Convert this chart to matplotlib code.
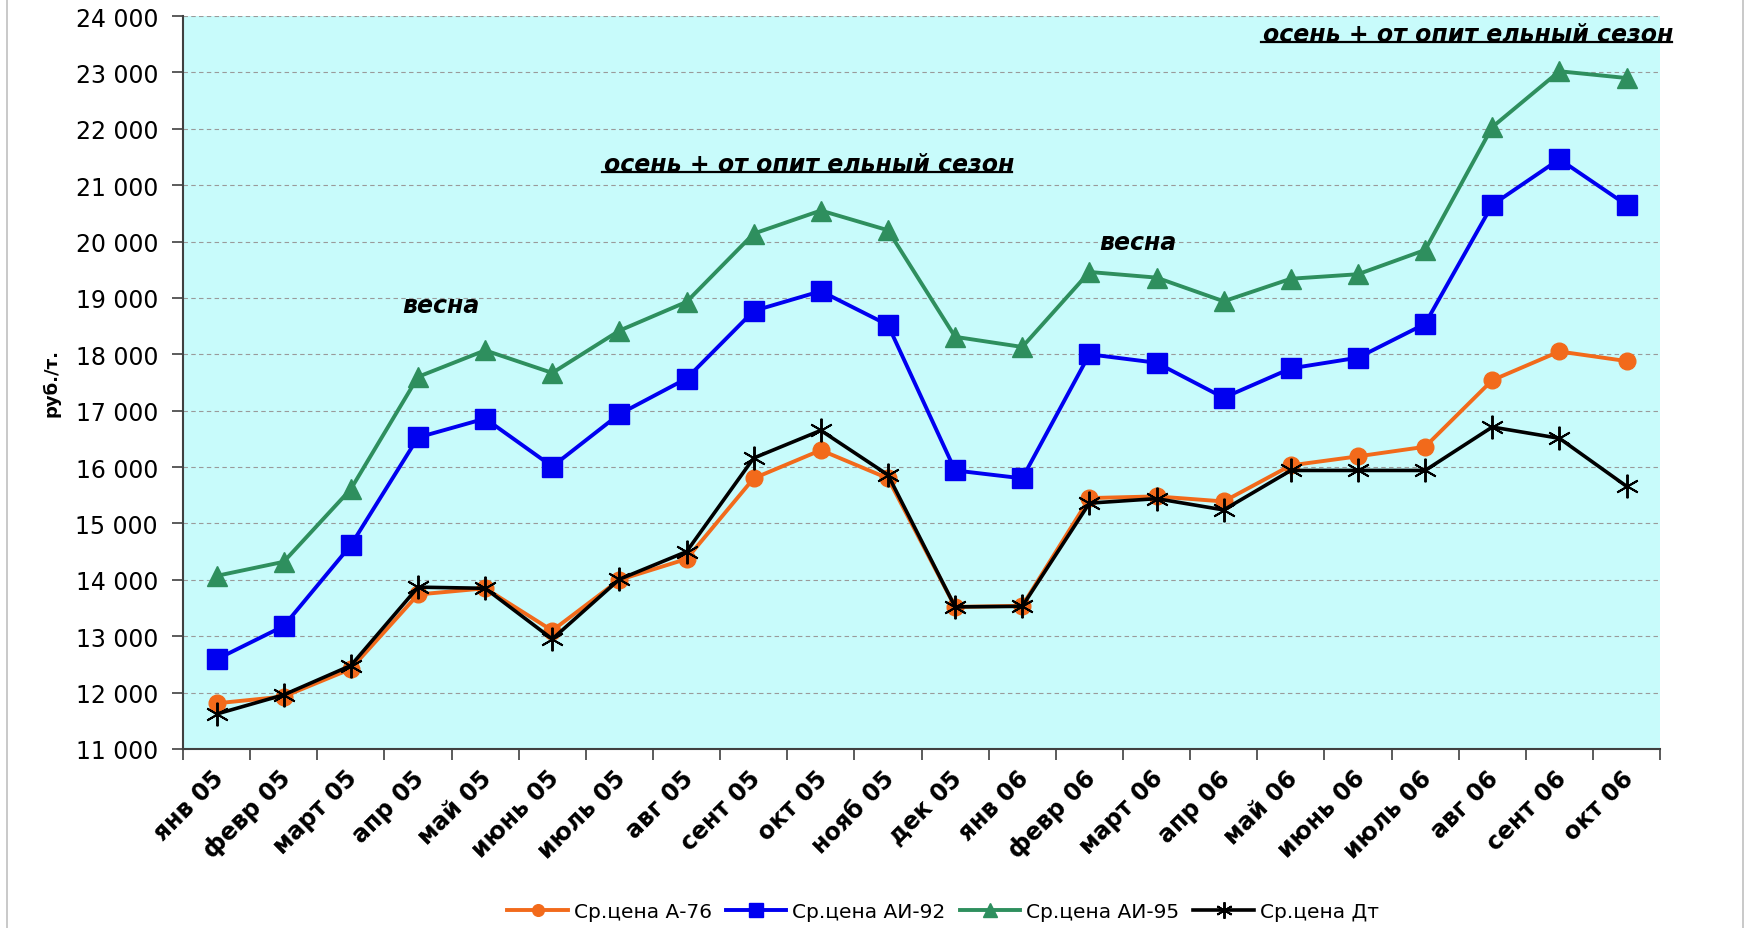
import numpy as np
import matplotlib
matplotlib.use("Agg")
import matplotlib.pyplot as plt
from matplotlib.patches import Rectangle
from matplotlib.lines import Line2D
from matplotlib.ticker import FuncFormatter, FixedLocator
from matplotlib.transforms import ScaledTranslation

plt.rcParams['font.family'] = ['DejaVu Sans']

months = ['янв 05', 'февр 05', 'март 05', 'апр 05', 'май 05', 'июнь 05', 'июль 05',
          'авг 05', 'сент 05', 'окт 05', 'нояб 05', 'дек 05', 'янв 06', 'февр 06',
          'март 06', 'апр 06', 'май 06', 'июнь 06', 'июль 06', 'авг 06', 'сент 06', 'окт 06']

# средние цены, руб./т.
a76 = [11810, 11930, 12420, 13740, 13850, 13100, 14000, 14370, 15800, 16300, 15800,
       13520, 13540, 15450, 15480, 15390, 16030, 16190, 16360, 17540, 18050, 17880]
ai92 = [12590, 13180, 14615, 16525, 16860, 16010, 16940, 17570, 18770, 19120, 18520,
        15940, 15800, 18000, 17850, 17230, 17750, 17940, 18540, 20650, 21460, 20650]
ai95 = [14070, 14320, 15610, 17600, 18070, 17670, 18420, 18930, 20140, 20550, 20200,
        18310, 18130, 19460, 19360, 18940, 19340, 19420, 19850, 22030, 23020, 22900]
dt = [11620, 11960, 12480, 13870, 13850, 12950, 14010, 14500, 16160, 16650, 15860,
      13520, 13530, 15360, 15440, 15240, 15940, 15940, 15940, 16710, 16510, 15660]

series_names = ['Ср.цена А-76', 'Ср.цена АИ-92', 'Ср.цена АИ-95', 'Ср.цена Дт']

fig = plt.figure(figsize=(17.53, 9.29), dpi=100)
ax = fig.add_axes([0.1044, 0.1927, 0.8426, 0.789])
ax.set_facecolor('#C8FBFB')

x = np.arange(len(months))
ax.plot(x, a76, color='#F26A1B', lw=2.8, marker='o', ms=12, label=series_names[0], zorder=3)
ax.plot(x, ai92, color='#0000F0', lw=2.8, marker='s', ms=14, label=series_names[1], zorder=3)
ax.plot(x, ai95, color='#2E8F5E', lw=2.8, marker='^', ms=15, label=series_names[2], zorder=3)
ax.plot(x, dt, color='black', lw=2.6, marker=(6, 2, 0), ms=17, mew=1.4,
        label=series_names[3], zorder=4)

ax.set_xlim(-0.5, len(months) - 0.5)
ax.set_ylim(11000, 24000)
ax.set_yticks(np.arange(11000, 24001, 1000))
ax.yaxis.set_major_formatter(FuncFormatter(lambda v, p: f"{v:,.0f}".replace(",", " ")))
ax.grid(axis='y', color='#9a9a9a', ls=(0, (4, 3)), lw=0.8)
ax.set_axisbelow(True)

ax.set_xticks(x)
ax.set_xticklabels(months, rotation=45, ha='right', va='top', rotation_mode='anchor',
                   fontsize=17, fontweight='bold')
ax.xaxis.set_minor_locator(FixedLocator(np.arange(len(months) + 1) - 0.5))
ax.tick_params(axis='x', which='major', length=0, pad=12)
ax.tick_params(axis='x', which='minor', length=8, width=1.2, color='#404040')
ax.tick_params(axis='y', length=8, width=1.2, color='#404040', labelsize=17, pad=10)
for lab in ax.get_xticklabels():
    lab.set_transform(lab.get_transform() + ScaledTranslation(-4 / 72, 0, fig.dpi_scale_trans))

for side in ['top', 'right']:
    ax.spines[side].set_visible(False)
for side in ['left', 'bottom']:
    ax.spines[side].set_color('#404040')
    ax.spines[side].set_linewidth(1.5)

ax.set_ylabel('руб./т.', fontsize=13, fontweight='bold', labelpad=11)

# подписи сезонов
note_style = dict(fontsize=17, fontweight='bold', style='italic', color='black',
                  va='center', clip_on=False)
ax.text(2.77, 18880, 'весна', **note_style)
ax.text(13.14, 19990, 'весна', **note_style)
autumn = [ax.text(5.77, 21380, 'осень + от опит ельный сезон', **note_style),
          ax.text(15.59, 23680, 'осень + от опит ельный сезон', **note_style)]

fig.legend(loc='center', bbox_to_anchor=(0.538, 0.018), ncol=4, frameon=False,
           fontsize=14.5, handlelength=3.0, handletextpad=0.3, columnspacing=0.7,
           markerscale=0.7)

fig.add_artist(Rectangle((7 / 1753, -0.01), 1736 / 1753, 1.02, fill=False,
                         edgecolor='#c0c0c0', lw=1.2, transform=fig.transFigure))

# подчёркивание
fig.canvas.draw()
renderer = fig.canvas.get_renderer()
W, H = fig.bbox.width, fig.bbox.height
for t in autumn:
    bb = t.get_window_extent(renderer)
    yl = (bb.y0 + 4) / H
    fig.add_artist(Line2D([(bb.x0 - 2) / W, (bb.x1 - 2) / W], [yl, yl],
                          color='black', lw=1.6, transform=fig.transFigure))

fig.savefig('out.png', dpi=100)
